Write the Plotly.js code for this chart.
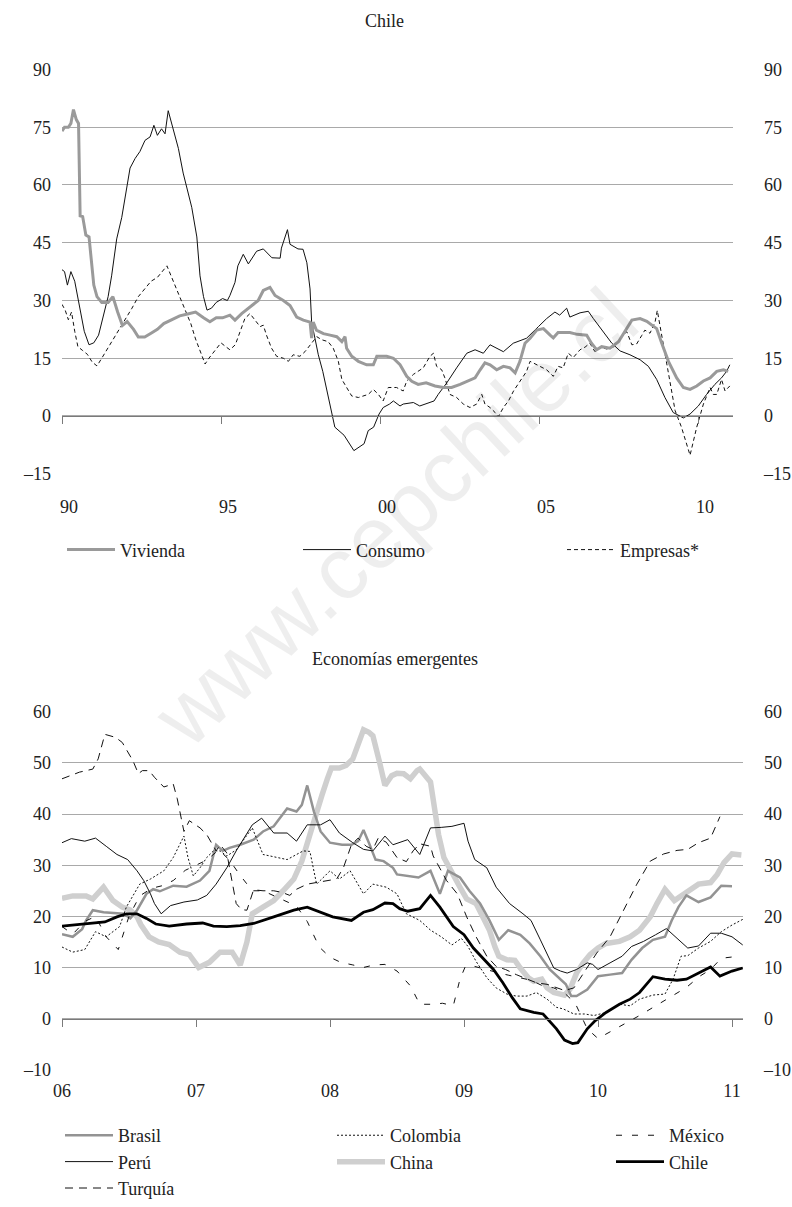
<!DOCTYPE html>
<html><head><meta charset="utf-8">
<script src="https://cdn.plot.ly/plotly-3.0.1.min.js"></script>
<style>html,body{margin:0;padding:0;background:#fff}#chart{width:792px;height:1207px}</style>
</head><body><div id="chart"></div>
<script>
// ---------- TOP CHART: Chile (decimal years, % y/y) ----------
const topTickVals = [1990, 1995, 2000, 2005, 2010];
const topTickText = ['90', '95', '00', '05', '10'];
const topYTicks = [-15, 0, 15, 30, 45, 60, 75, 90];
const topYText = ['\u201315', '0', '15', '30', '45', '60', '75', '90'];

const vivT = [1990.00,1990.08,1990.2,1990.28,1990.36,1990.45,1990.52,1990.57,1990.65,1990.75,1990.85,1990.92,1991.0,1991.1,1991.25,1991.45,1991.6,1991.75,1991.9,1992.05,1992.25,1992.4,1992.6,1992.8,1993.0,1993.2,1993.45,1993.7,1993.95,1994.2,1994.45,1994.65,1994.85,1995.05,1995.28,1995.44,1995.65,1995.91,1996.17,1996.33,1996.54,1996.7,1996.96,1997.17,1997.38,1997.59,1997.8,1997.85,1997.9,1998.0,1998.22,1998.43,1998.64,1998.8,1998.9,1998.95,1999.11,1999.32,1999.58,1999.79,1999.9,2000.21,2000.42,2000.63,2000.84,2001.0,2001.2,2001.45,2001.73,2001.99,2002.25,2002.52,2002.75,2002.99,2003.15,2003.3,2003.46,2003.67,2003.88,2004.09,2004.25,2004.4,2004.56,2004.72,2004.93,2005.14,2005.35,2005.45,2005.6,2005.97,2006.2,2006.5,2006.65,2006.81,2006.97,2007.23,2007.5,2007.7,2007.92,2008.18,2008.39,2008.55,2008.7,2008.86,2009.07,2009.33,2009.54,2009.75,2009.96,2010.17,2010.38,2010.59,2010.8,2010.95];
const vivV = [74,75,75,76,79.6,77,76,52,51.8,47,46.5,40,34,31,29.5,29.5,31,27,23.5,24.5,22.5,20.5,20.5,21.5,22.5,24,25,26,26.5,27,25.5,24.5,25.5,25.5,26.2,24.9,26.6,28.3,30,32.6,33.4,31.3,30,28.7,25.7,24.9,24.4,20.2,24.4,22.3,21.4,21,20.6,19.3,20.6,17.6,15.5,14.2,13.3,13.3,15.5,15.5,15,13.3,10.3,9,8.2,8.6,7.8,7.4,7.4,8.2,9.1,9.9,12,13.8,13.3,12,12.9,12.5,11.2,14.2,18.9,20.2,22.3,22.7,21,20.3,21.7,21.7,21.2,21,18.9,17.2,18,17.6,19.3,21.9,24.9,25.3,24.6,23.6,22.7,18.9,14.2,9.9,7.4,6.9,7.8,9.1,9.9,11.6,12,11.6];

const conT = [1990.0,1990.08,1990.17,1990.28,1990.4,1990.55,1990.7,1990.85,1991.0,1991.15,1991.3,1991.45,1991.56,1991.72,1991.88,1992.03,1992.14,1992.3,1992.45,1992.61,1992.77,1992.89,1993.0,1993.13,1993.24,1993.34,1993.5,1993.66,1993.81,1993.92,1994.08,1994.24,1994.34,1994.45,1994.56,1994.7,1994.85,1995.05,1995.2,1995.28,1995.44,1995.53,1995.7,1995.86,1996.12,1996.33,1996.6,1996.86,1996.9,1997.09,1997.17,1997.42,1997.58,1997.7,1997.8,1997.85,1997.96,1998.06,1998.2,1998.37,1998.48,1998.58,1998.87,1999.18,1999.5,1999.63,1999.8,1999.97,2000.1,2000.3,2000.42,2000.63,2000.73,2001.05,2001.25,2001.57,2001.7,2001.83,2002.1,2002.41,2002.73,2002.99,2003.25,2003.46,2003.88,2004.19,2004.61,2004.98,2005.24,2005.5,2005.65,2005.87,2005.97,2006.29,2006.55,2006.71,2006.97,2007.29,2007.55,2007.86,2008.18,2008.44,2008.7,2008.96,2009.22,2009.54,2009.75,2010.01,2010.27,2010.53,2010.74,2010.9,2011.0];
const conV = [38,37.5,34,37.5,35,28,22,18.5,19,21,26,31,36.4,46,51.6,59.3,64.4,66.9,68.7,71.6,72.5,75.5,72.9,74.6,73.3,79.3,74.6,69.5,63.1,59.3,54.2,46.5,36.4,31,27.5,28,29.5,30.5,30,31.3,34.7,39,42,39.5,42.8,43.4,41.1,41,43.6,48.4,44.6,43.4,43.3,39.8,33,24.4,20.2,15.9,11.6,4.8,0.5,-2.9,-5,-9,-7.2,-3.8,-2.9,0.5,2.2,3.1,3.9,2.6,3.1,3.5,2.6,3.5,3.9,5.6,8.6,12.5,16.3,17.2,16.3,18.5,16.7,18.9,20.2,23.2,25.3,27,26.2,28,25.7,26.8,27.2,25.3,22.3,18.9,16.9,15.9,14.6,12.9,9.5,4.8,0.9,-0.5,0.5,2.6,5.6,8.2,9.9,11.6,13.3];

const empT = [1990.0,1990.1,1990.2,1990.3,1990.4,1990.5,1990.65,1990.8,1990.95,1991.1,1991.25,1991.4,1991.55,1991.7,1991.85,1992.0,1992.2,1992.4,1992.6,1992.8,1993.0,1993.2,1993.3,1993.45,1993.6,1993.75,1993.9,1994.05,1994.2,1994.35,1994.5,1994.62,1994.8,1995.0,1995.15,1995.28,1995.45,1995.65,1995.75,1995.91,1996.07,1996.23,1996.33,1996.43,1996.59,1996.75,1996.96,1997.12,1997.27,1997.48,1997.64,1997.8,1998.01,1998.17,1998.37,1998.53,1998.69,1998.8,1998.95,1999.11,1999.32,1999.48,1999.63,1999.79,1999.95,2000.1,2000.26,2000.52,2000.73,2000.84,2001.05,2001.36,2001.57,2001.68,2001.78,2001.94,2002.04,2002.2,2002.41,2002.62,2002.83,2003.04,2003.2,2003.3,2003.46,2003.62,2003.72,2003.88,2004.04,2004.2,2004.4,2004.61,2004.72,2004.93,2005.1,2005.24,2005.45,2005.6,2005.76,2005.92,2006.08,2006.29,2006.45,2006.6,2006.76,2006.92,2007.13,2007.34,2007.55,2007.76,2007.92,2008.07,2008.23,2008.33,2008.49,2008.65,2008.72,2009.01,2009.28,2009.48,2009.75,2009.96,2010.17,2010.38,2010.48,2010.59,2010.74,2010.85,2011.0];
const empV = [29,27.5,25,27,22,18,17,16,14,13,15,17,19,21,23,25,28,31,33,35,36,38,39,36,33,30,27,24,20,17,13.5,15,17,19,18,17.2,18.5,22.7,25.3,26.6,24.9,23.2,23.6,21,17.6,15.5,15,14.2,15.9,15.5,16.7,18.5,20.6,19.8,19.3,17.6,14.2,9.5,7.4,5.2,4.8,5.2,5.6,6.9,5.6,3.9,7.4,7.4,6.5,9.1,10.8,12.5,15.5,16.3,12.9,12,9.9,5.6,4.8,3.1,2.2,3.1,5.6,3.1,2.2,0.9,-0.2,2.2,3.9,6.5,9.1,11.6,14.2,13.3,12.5,12,10.3,12.9,12.5,16.3,15.2,17.2,17.9,18.9,16.7,17.9,17.4,17.9,20.2,21.9,18.5,18.7,20.9,22.3,21.5,24.4,27.4,14.2,1.4,-2.9,-10.2,-2.9,3.1,7.4,5.6,5.6,9.5,6.5,7.8];

// ---------- BOTTOM CHART: Economías emergentes ----------
const botTickVals = [2006, 2007, 2008, 2009, 2010, 2011];
const botTickText = ['06', '07', '08', '09', '10', '11'];
const botYTicks = [-10, 0, 10, 20, 30, 40, 50, 60];
const botYText = ['\u201310', '0', '10', '20', '30', '40', '50', '60'];

const brasilT = [2006.0,2006.08,2006.15,2006.18,2006.23,2006.31,2006.46,2006.51,2006.56,2006.63,2006.68,2006.73,2006.83,2006.93,2007.03,2007.1,2007.15,2007.2,2007.25,2007.33,2007.43,2007.5,2007.58,2007.68,2007.75,2007.79,2007.83,2007.88,2007.93,2008.0,2008.09,2008.16,2008.21,2008.25,2008.29,2008.34,2008.4,2008.47,2008.5,2008.57,2008.66,2008.75,2008.78,2008.82,2008.88,2008.97,2009.04,2009.12,2009.19,2009.26,2009.33,2009.42,2009.49,2009.57,2009.64,2009.72,2009.76,2009.8,2009.84,2009.92,2010.0,2010.09,2010.18,2010.25,2010.33,2010.41,2010.5,2010.55,2010.6,2010.66,2010.75,2010.84,2010.92,2011.0];
const brasilV = [16.5,16,17.5,19.2,21.2,20.8,20.5,19.6,21.2,24.4,25.3,24.9,26,25.8,27,28.9,34,32.8,33.4,34,35,36.6,37.6,41.1,40.5,41.8,45.6,40.5,36.6,34.4,34,34,34.7,36.9,34.4,31.1,30.8,29.5,28.2,27.9,27.6,28.9,27,24.4,28.9,27.6,25,22.5,19.2,15.4,17.3,16.4,14.7,12.2,9.6,7.7,6.7,4.4,4.4,5.7,8.3,8.6,8.9,11.5,13.8,15.4,16,19.2,21.8,24.1,22.8,23.7,26,25.9];

const peruT = [2006.0,2006.07,2006.17,2006.25,2006.33,2006.41,2006.49,2006.56,2006.61,2006.66,2006.69,2006.74,2006.81,2006.91,2007.01,2007.08,2007.15,2007.23,2007.3,2007.42,2007.49,2007.58,2007.68,2007.75,2007.83,2007.93,2008.0,2008.07,2008.17,2008.25,2008.32,2008.41,2008.47,2008.58,2008.67,2008.75,2008.83,2008.91,2009.0,2009.03,2009.08,2009.17,2009.24,2009.34,2009.44,2009.5,2009.57,2009.62,2009.67,2009.72,2009.77,2009.84,2009.92,2009.96,2010.0,2010.09,2010.18,2010.25,2010.34,2010.43,2010.51,2010.59,2010.67,2010.75,2010.84,2010.92,2011.0,2011.08];
const peruV = [34.4,35.2,34.7,35.3,33.7,32.1,31.1,28.9,27,24.4,22.5,20.5,22.1,22.8,23.2,24.1,26.3,29.5,32.8,37.9,39.2,36.3,36.3,34.7,37.9,37.9,38.9,36.3,34.4,33.1,32.8,35.7,34,35,32.1,37.3,37.4,37.6,38.2,34.7,31.1,29.5,25.7,22.5,20.5,19.2,15.4,12.8,9.9,9.3,8.9,9.6,10.9,10.6,9.6,10.9,12.2,14.1,15.1,16.4,17.6,15.7,13.8,14.2,16.7,16.7,16,14.4];

const turquiaT = [2006.0,2006.13,2006.23,2006.27,2006.32,2006.4,2006.45,2006.53,2006.57,2006.6,2006.65,2006.69,2006.76,2006.83,2006.86,2006.88,2006.91,2006.95,2006.98,2007.03,2007.08,2007.12,2007.15,2007.18,2007.23,2007.25,2007.28,2007.3,2007.34,2007.38,2007.43,2007.5,2007.58,2007.64,2007.7,2007.75,2007.83,2007.9,2007.98,2008.05,2008.1,2008.14,2008.16,2008.21,2008.27,2008.32,2008.36,2008.42,2008.5,2008.57,2008.62,2008.67,2008.75,2008.77,2008.81,2008.87,2008.95,2009.02,2009.09,2009.17,2009.24,2009.31,2009.39,2009.47,2009.54,2009.62,2009.69,2009.75,2009.82,2009.89,2009.99,2010.09,2010.19,2010.29,2010.39,2010.49,2010.59,2010.67,2010.75,2010.84,2010.91];
const turquiaV = [46.9,48.2,48.8,50.8,55.6,55,54,50.4,47.9,48.5,48.5,47.2,45.3,45.9,43,40.2,36.6,38.7,38.2,37.3,36,34,32.8,34,32.4,29.5,25.7,22.5,21.3,21.2,25.2,25,25,24.7,24.1,25.3,26.3,26.6,27,27.3,29.5,32.4,34,35.3,33.7,33.1,35.3,34.5,31.5,30.7,32.8,34.2,33.7,31.8,29.9,27,24.4,19.9,16,12.2,10.2,9.6,8.6,7.7,7,6.7,6,5.5,6,8.9,12.8,16,21.2,26.3,30.8,32.2,32.9,33.1,34.4,35.3,39.5];

const colombiaT = [2006.0,2006.08,2006.17,2006.25,2006.33,2006.43,2006.48,2006.58,2006.66,2006.76,2006.83,2006.91,2006.94,2006.98,2007.03,2007.08,2007.13,2007.18,2007.23,2007.3,2007.42,2007.5,2007.68,2007.8,2007.85,2007.9,2008.0,2008.07,2008.15,2008.25,2008.32,2008.42,2008.5,2008.57,2008.67,2008.75,2008.83,2008.91,2008.98,2009.03,2009.09,2009.17,2009.24,2009.32,2009.39,2009.47,2009.54,2009.62,2009.69,2009.74,2009.82,2009.9,2009.97,2010.06,2010.16,2010.24,2010.31,2010.41,2010.5,2010.56,2010.62,2010.67,2010.75,2010.84,2010.92,2011.0,2011.08];
const colombiaV = [14,13,13.5,17,16,18,21.8,26.3,27.3,28.9,31.5,35.7,31.5,27.9,29.5,31.5,32.8,32.8,31.8,33,37.3,32.1,31.1,32.8,32.7,26.3,28.9,27.3,28.9,24.4,26.3,25.7,24.4,20.5,19.2,17.3,16,14.4,15.7,14.1,11.2,8,6,4.8,4.4,4.4,5.1,3.8,2.2,1.9,0.9,0.9,0.6,1.2,2.8,2.5,3.8,4.6,4.8,7.7,12.2,12.3,13.8,15.1,17,18.3,19.4];

const chinaT = [2006.0,2006.08,2006.18,2006.23,2006.31,2006.38,2006.45,2006.51,2006.56,2006.59,2006.65,2006.72,2006.8,2006.88,2006.95,2007.02,2007.1,2007.18,2007.27,2007.33,2007.38,2007.42,2007.5,2007.58,2007.65,2007.73,2007.79,2007.84,2007.89,2007.94,2007.98,2008.01,2008.07,2008.12,2008.17,2008.21,2008.25,2008.29,2008.32,2008.37,2008.41,2008.46,2008.5,2008.55,2008.6,2008.65,2008.67,2008.75,2008.78,2008.81,2008.85,2008.9,2008.97,2009.02,2009.09,2009.14,2009.19,2009.23,2009.26,2009.32,2009.38,2009.42,2009.48,2009.52,2009.58,2009.62,2009.67,2009.72,2009.75,2009.79,2009.84,2009.89,2009.94,2010.0,2010.06,2010.16,2010.24,2010.31,2010.39,2010.44,2010.5,2010.57,2010.66,2010.75,2010.84,2010.89,2010.94,2011.0,2011.07];
const chinaV = [23.5,24,24,23.4,25.7,23.1,21.8,21.2,19.9,18.3,16,15,14.5,13,12.5,10,11,13,13,10.5,15,20.5,21.8,23.1,25,27.3,30.8,35.3,39.8,43.7,46.9,49,49,49.5,50.8,54,56.5,56,55.3,50.1,45.6,47.5,48,47.9,46.9,48.5,48.8,46.3,41.1,36,31.5,28.9,25.7,23.4,22.5,19.9,17.3,14.1,12.2,11.5,11.4,9.9,8,7.3,7.7,6,5.1,4.8,4.6,5.7,8.9,10.9,12.5,13.8,14.7,15.1,16,17.3,19.9,22.5,25.3,23.1,24.7,26.3,26.6,28.2,30.5,32.2,32];

const mexicoT = [2006.0,2006.08,2006.17,2006.25,2006.33,2006.42,2006.5,2006.58,2006.67,2006.75,2006.83,2006.92,2007.0,2007.08,2007.17,2007.25,2007.33,2007.42,2007.5,2007.58,2007.67,2007.75,2007.83,2007.92,2008.0,2008.08,2008.17,2008.25,2008.33,2008.41,2008.5,2008.6,2008.67,2008.77,2008.84,2008.92,2008.97,2009.01,2009.08,2009.17,2009.25,2009.33,2009.42,2009.5,2009.58,2009.67,2009.75,2009.83,2009.92,2010.0,2010.31,2010.51,2010.59,2010.66,2010.76,2010.84,2010.92,2011.05];
const mexicoV = [18,16.5,19,20,16,13.5,20,24,25.5,26,27,29,30,31,33,31,28,25,25,24,23,22,19,14,12,11,10.5,10,10.5,10.6,9.3,6.4,2.8,2.8,3,2.5,7.7,10.2,10.2,9.5,9,8.5,8,7.5,6.5,6,5,3,-2,-3.9,0.6,3.8,5.1,6.1,8.3,9.6,11.8,12.2];

const chileT = [2006.0,2006.08,2006.17,2006.23,2006.32,2006.41,2006.48,2006.56,2006.63,2006.7,2006.8,2006.93,2007.05,2007.13,2007.23,2007.33,2007.43,2007.58,2007.73,2007.83,2007.93,2008.02,2008.16,2008.25,2008.32,2008.41,2008.47,2008.52,2008.58,2008.67,2008.75,2008.82,2008.92,2009.0,2009.07,2009.14,2009.22,2009.29,2009.36,2009.42,2009.52,2009.59,2009.64,2009.69,2009.75,2009.81,2009.85,2009.92,2009.98,2010.06,2010.16,2010.24,2010.31,2010.41,2010.5,2010.59,2010.66,2010.75,2010.84,2010.91,2011.0,2011.08];
const chileV = [18.1,18.3,18.5,18.6,18.9,19.9,20.5,20.5,19.6,18.5,18.1,18.5,18.7,18.1,18,18.2,18.6,19.9,21.2,21.8,20.8,19.9,19.2,20.8,21.3,22.6,22.5,21.5,21,21.5,24.1,21.8,18,16.4,13.8,11.8,9.6,7,4.1,1.9,1.2,0.9,-0.5,-2,-4.2,-4.9,-4.7,-2,-0.4,1.2,2.8,3.8,5.1,8.2,7.7,7.5,7.7,8.9,10.1,8.3,9.3,9.9];

// ---------- geometry ----------
const W = 792, H = 1207;
const py = p => 1 - p / H;
const topDom = { x: [62 / W, 733 / W], y: [py(480.5), py(70.5)] };
const botDom = { x: [62 / W, 743 / W], y: [py(1085), py(722)] };
const topYR = [-15, 90], botYR = [-10, 60];
const topXR = [1990, 1990 + (733 - 62) / 31.8];
const botXR = [2006, 2006 + (743 - 62) / 134];
const zeroPos = (dom, r) => dom.y[0] + (0 - r[0]) / (r[1] - r[0]) * (dom.y[1] - dom.y[0]);

const FONT = '"Liberation Serif", "Times New Roman", Times, serif';
const GRID = '#a9a9a9', AXC = '#7a7a7a';

const line = (x, y, name, xa, ya, ln, lg) => ({
  type: 'scatter', mode: 'lines', x, y, name, xaxis: xa, yaxis: ya,
  line: Object.assign({ shape: 'linear' }, ln), legend: lg, hoverinfo: 'skip'
});
const dummy = (xa, ya) => ({ type: 'scatter', mode: 'lines', x: [], y: [], xaxis: xa, yaxis: ya, showlegend: false, hoverinfo: 'skip' });

const traces = [
  line(empT, empV, 'Empresas*', 'x', 'y', { color: '#111', width: 1, dash: '4px,3px' }, 'legend6'),
  line(conT, conV, 'Consumo', 'x', 'y', { color: '#111', width: 1 }, 'legend5'),
  line(vivT, vivV, 'Vivienda', 'x', 'y', { color: '#9a9a9a', width: 3 }, 'legend4'),
  dummy('x2', 'y'), dummy('x', 'y2'),
  line(chinaT, chinaV, 'China', 'x3', 'y3', { color: '#cfcfcf', width: 5.5 }, 'legend2'),
  line(brasilT, brasilV, 'Brasil', 'x3', 'y3', { color: '#939393', width: 2.5 }, 'legend'),
  line(peruT, peruV, 'Perú', 'x3', 'y3', { color: '#111', width: 1 }, 'legend'),
  line(turquiaT, turquiaV, 'Turquía', 'x3', 'y3', { color: '#111', width: 1, dash: '8px,6px' }, 'legend'),
  line(colombiaT, colombiaV, 'Colombia', 'x3', 'y3', { color: '#111', width: 1, dash: '2px,2px' }, 'legend2'),
  line(mexicoT, mexicoV, 'México', 'x3', 'y3', { color: '#111', width: 1, dash: '6px,10px' }, 'legend3'),
  line(chileT, chileV, 'Chile', 'x3', 'y3', { color: '#000', width: 2.8 }, 'legend3'),
  dummy('x4', 'y3'), dummy('x3', 'y4')
];
traces[6].legendrank = 1; traces[7].legendrank = 2; traces[8].legendrank = 3;
traces[9].legendrank = 1; traces[5].legendrank = 2;
traces[10].legendrank = 1; traces[11].legendrank = 2;

const TF = { family: FONT, size: 18, color: '#222' };
const labX = (dom, r, tv, tt, extra) => Object.assign({
  domain: dom.x, range: r, tickmode: 'array', tickvals: tv, ticktext: tt,
  showgrid: false, zeroline: false, showline: false, ticks: '', fixedrange: true, tickfont: TF
}, extra);
const zeroX = (over, dom, r, tv, yr) => ({
  overlaying: over, anchor: 'free', position: zeroPos(dom, yr), domain: dom.x, range: r,
  tickmode: 'array', tickvals: tv, showticklabels: false, ticks: 'outside', ticklen: 7,
  tickcolor: AXC, tickwidth: 1, showline: true, linecolor: AXC, linewidth: 1,
  showgrid: false, zeroline: false, side: 'bottom', fixedrange: true
});
const leftY = (dom, r, tv, tt, anchor) => ({
  domain: dom.y, range: r, tickmode: 'array', tickvals: tv, ticktext: tt, anchor,
  showgrid: true, gridcolor: GRID, gridwidth: 1, zeroline: false, showline: false,
  ticks: '', ticklabelstandoff: 10, fixedrange: true, tickfont: TF
});
const rightY = (over, dom, r, tv, tt, anchor, so) => ({
  overlaying: over, side: 'right', anchor, domain: dom.y, range: r, tickmode: 'array',
  tickvals: tv, ticktext: tt, showgrid: false, zeroline: false, showline: false,
  ticks: '', ticklabelstandoff: so, fixedrange: true, tickfont: TF
});

const legBase = (x, y) => ({
  x: x / W, y: py(y), xanchor: 'left', yanchor: 'top', orientation: 'v',
  bgcolor: 'rgba(0,0,0,0)', borderwidth: 0, itemwidth: 48, tracegroupgap: 0,
  font: TF, itemclick: false, itemdoubleclick: false
});

const layout = {
  width: W, height: H, margin: { l: 0, r: 0, t: 0, b: 0 },
  paper_bgcolor: '#fff', plot_bgcolor: 'rgba(0,0,0,0)',
  font: TF, showlegend: true,
  xaxis: labX(topDom, topXR, topTickVals, topTickText, { anchor: 'y', ticklabelstandoff: 20, ticklabelshift: 7 }),
  xaxis2: zeroX('x', topDom, topXR, topTickVals, topYR),
  yaxis: leftY(topDom, topYR, topYTicks, topYText, 'x'),
  yaxis2: rightY('y', topDom, topYR, topYTicks, topYText, 'x', 30),
  xaxis3: labX(botDom, botXR, botTickVals, botTickText, { anchor: 'y3', ticklabelstandoff: 8 }),
  xaxis4: zeroX('x3', botDom, botXR, botTickVals, botYR),
  yaxis3: leftY(botDom, botYR, botYTicks, botYText, 'x3'),
  yaxis4: rightY('y3', botDom, botYR, botYTicks, botYText, 'x3', 20),
  legend: legBase(60, 1133),
  legend2: legBase(332, 1133),
  legend3: legBase(611, 1133),
  legend4: legBase(62, 539),
  legend5: legBase(298, 539),
  legend6: legBase(562, 539),
  annotations: [
    { text: 'Chile', x: 384 / W, y: py(21), xref: 'paper', yref: 'paper', showarrow: false,
      xanchor: 'center', yanchor: 'middle', font: TF },
    { text: 'Economías emergentes', x: 395 / W, y: py(668), xref: 'paper', yref: 'paper', showarrow: false,
      xanchor: 'center', yanchor: 'middle', font: TF },
    { text: 'www.cepchile.cl', x: 395 / W, y: py(525), xref: 'paper', yref: 'paper', showarrow: false,
      xanchor: 'center', yanchor: 'middle', textangle: -43,
      font: { family: '"Liberation Sans", Arial, sans-serif', size: 88, color: 'rgba(0,0,0,0.065)' } }
  ]
};

Plotly.newPlot('chart', traces, layout, { staticPlot: true, displayModeBar: false });
</script></body></html>
